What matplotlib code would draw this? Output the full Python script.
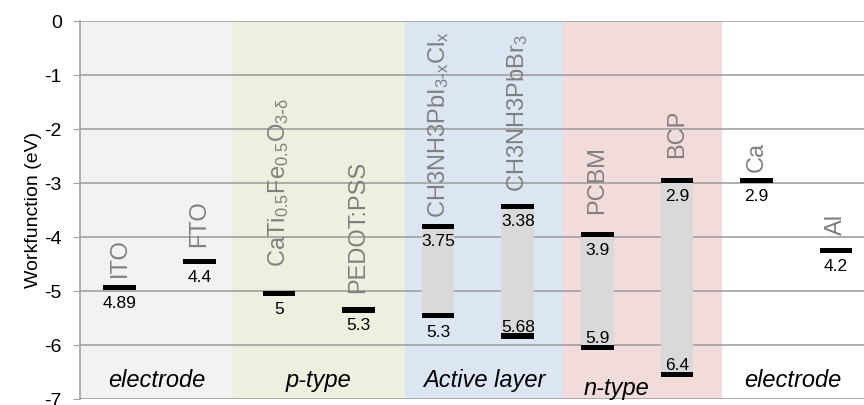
import matplotlib.pyplot as plt
from matplotlib.patches import Rectangle

plt.rcParams['font.family'] = ['Liberation Sans', 'DejaVu Sans']
plt.rcParams['mathtext.default'] = 'regular'

# materials, left to right
names = ['ITO', 'FTO', r'CaTi$_{0.5}$Fe$_{0.5}$O$_{3\text{-}\delta}$', 'PEDOT:PSS',
         r'CH3NH3PbI$_{3\text{-}x}$Cl$_x$', r'CH3NH3PbBr$_3$', 'PCBM', 'BCP', 'Ca', 'Al']
# upper level (workfunction / LUMO), eV below vacuum
upper = [4.89, 4.4, 5.0, 5.3, 3.75, 3.38, 3.9, 2.9, 2.9, 4.2]
# lower level (HOMO), None where the material has a single level
lower = [None, None, None, None, 5.3, 5.68, 5.9, 6.4, None, None]
# gap between level and rotated name, points
name_gap = [6, 8, 17, 10, 4, 8, 13, 14, 4, 9]
# where the lower value label sits
lower_pos = ['below', 'above', 'above', 'above']

groups = ['electrode', 'p-type', 'Active layer', 'n-type', 'electrode']
group_edges = [-0.5, 1.42, 3.58, 5.57, 7.56, 9.35]
group_colors = ['#f2f2f2', '#ebf1de', '#dce6f2', '#f2dcdb', '#ffffff']

fig = plt.figure(figsize=(8.64, 4.05), dpi=100)
ax = fig.add_axes([80 / 864, 6 / 405, 784 / 864, 378 / 405])

for i in range(len(groups)):
    ax.axvspan(group_edges[i], group_edges[i + 1], ymin=0, ymax=1,
               color=group_colors[i], lw=0, zorder=0)
    cx = (group_edges[i] + group_edges[i + 1]) / 2
    cy = -6.65
    if groups[i] == 'n-type':
        cx -= 0.33
        cy = -6.8
    ax.text(cx, cy, groups[i], ha='center', va='center', style='italic',
            fontsize=17, color='black', zorder=5)

w = 0.41
t = 0.1
li = 0
for i, nm in enumerate(names):
    v = upper[i]
    ax.add_patch(Rectangle((i - w / 2, -v - t), w, t, color='black', lw=0, zorder=4))
    ax.annotate(f'{v:g}', (i, -v - t), xytext=(0, -4), textcoords='offset points',
                ha='center', va='top', fontsize=12.5, color='black', zorder=5)
    ax.annotate(nm, (i, -v), xytext=(0, name_gap[i]), textcoords='offset points',
                ha='center', va='bottom', rotation=90, fontsize=17,
                color='#7f7f7f', zorder=5)
    if lower[i] is not None:
        lo = lower[i]
        ax.add_patch(Rectangle((i - w / 2, -lo - t), w, lo - v, color='#d9d9d9', lw=0, zorder=3))
        ax.add_patch(Rectangle((i - w / 2, -lo - 2 * t), w, t, color='black', lw=0, zorder=4))
        if lower_pos[li] == 'below':
            ax.annotate(f'{lo:g}', (i, -lo - 2 * t), xytext=(0, -5), textcoords='offset points',
                        ha='center', va='top', fontsize=12.5, color='black', zorder=5)
        else:
            ax.annotate(f'{lo:g}', (i, -lo - t), xytext=(0, -1), textcoords='offset points',
                        ha='center', va='bottom', fontsize=12.5, color='black', zorder=5)
        li += 1

ax.set_xlim(-0.5, 9.35)
ax.set_ylim(-7, 0)
ax.set_yticks(range(-7, 1))
ax.set_yticklabels([str(k) for k in range(-7, 1)])
ax.set_xticks([])
ax.grid(axis='y', color='#a0a0a0', lw=1.2, zorder=1)
ax.set_axisbelow(False)
for s in ['top', 'right', 'bottom']:
    ax.spines[s].set_visible(False)
ax.spines['left'].set_color('#a0a0a0')
ax.spines['left'].set_linewidth(1.2)
ax.spines['left'].set_zorder(2)
ax.tick_params(axis='y', length=5, color='#a0a0a0', labelsize=14, pad=8)
ax.set_ylabel('Workfunction (eV)', fontsize=14, labelpad=2)

fig.savefig('out.png', dpi=100)
